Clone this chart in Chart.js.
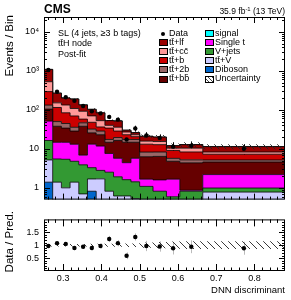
<!DOCTYPE html>
<html>
<head>
<meta charset="utf-8">
<title>DNN discriminant</title>
<script src="https://cdn.jsdelivr.net/npm/chart.js@4.4.1/dist/chart.umd.min.js"></script>
<style>
  html, body { margin: 0; padding: 0; background: #fff; }
  #plot { position: relative; width: 291px; height: 300px; overflow: hidden;
          font-family: "Liberation Sans", Arial, Helvetica, sans-serif; color: #000; }
  #plot canvas { position: absolute; left: 0; }
  .lbl { position: absolute; white-space: nowrap; line-height: 1; }
  .box { position: absolute; width: 7px; height: 5px; border: 1px solid #000; }
  .rot { position: absolute; white-space: nowrap; line-height: 1; width: 100px; text-align: right;
         transform-origin: 0 0; transform: rotate(-90deg); }
  sup { font-size: 70%; vertical-align: 0; position: relative; top: -0.45em; }
</style>
</head>
<body>
<div id="plot">
  <canvas id="mainChart" width="291" height="210" style="top:0"></canvas>
  <canvas id="ratioChart" width="291" height="91" style="top:209px"></canvas>
</div>
<script>
// bin edges of the DNN discriminant histogram
const binEdges = [0.25, 0.2727, 0.2955, 0.3182, 0.3409, 0.3636, 0.3864, 0.4091, 0.4318,
                  0.4545, 0.4773, 0.5, 0.535, 0.57, 0.605, 0.665, 0.88];
const xTicks = [0.3, 0.4, 0.5, 0.6, 0.7, 0.8];
const yTicks = [1, 10, 100, 1000, 10000];
const ratioTicks = [0.5, 1, 1.5];

// post-fit yields per bin
const diboson = [1.4, 0.3, 0.2, 0.2, 0.15, 0.82, 0.2, 0.15, 0.12, 0.1, 0.1, 0.05, 0.05, 0.05, 0.05, 0.05];
const ttV     = [3.8, 1.1, 0.8, 1.2, 0.55, 0.87, 1.5, 0.67, 0.5, 0.52, 0.43, 0.25, 0.2, 0.15, 0.25, 0.73];
const vJets   = [11.2, 4.1, 4.4, 3.4, 3.2, 1.6, 1.1, 1.7, 1.3, 1.0, 0.9, 0.79, 0.57, 0.39, 0.52, 0.21];
const singleT = [35, 9.2, 9.3, 8.3, 3.0, 9.9, 9.0, 5.1, 3.8, 2.8, 4.3, 0.58, 0.78, 1.08, 0.05, 1.2];
const ttbb    = [53, 23.2, 19.3, 15.4, 31, 12.5, 11.2, 7.1, 10.7, 10.3, 9.0, 4.6, 4.8, 3.13, 3.5, 2.4];
const tt2b    = [28, 12.1, 10.6, 7.2, 8.6, 6.3, 5.6, 2.7, 3.1, 2.7, 2.7, 2.0, 1.9, 0.9, 0.85, 0.6];
const ttb     = [161, 65, 39.4, 34, 11.4, 16, 7.8, 16.6, 9.1, 5.6, 3.1, 4.9, 4.5, 3.4, 3.1, 2.1];
const ttcc    = [233, 36, 49, 38.6, 34, 22, 16.4, 6, 7.2, 4, 2.5, 2.6, 2.6, 1.3, 2.1, 1.0];
const ttlf    = [561, 117, 68, 81.4, 42, 33, 31, 13, 16.2, 3, 3, 5.2, 4.6, 1.6, 2.4, 3.1];
const signal  = [1.5, 0.6, 0.5, 0.4, 0.3, 0.3, 0.2, 0.2, 0.2, 0.15, 0.15, 0.1, 0.1, 0.1, 0.1, 0.1];

const dataObs  = [1055, 290, 211, 170, 126, 92, 81, 66, 56, 17.4, 33.4, 22, 19.1, 11.4, 12, 10];
const dataErr  = [32, 17, 14.5, 13, 11.2, 9.6, 9, 8.1, 7.5, 4.2, 5.8, 4.7, 4.4, 3.4, 3.5, 3.2];
const ratioObs = [0.97, 1.08, 1.05, 0.89, 0.94, 0.89, 0.97, 1.24, 1.08, 0.59, 1.32, 0.97, 0.95, 0.88, 0.94, 0.88];
const ratioErr = [0.03, 0.05, 0.06, 0.07, 0.08, 0.09, 0.1, 0.12, 0.12, 0.13, 0.14, 0.2, 0.2, 0.24, 0.25, 0.25];
const relUnc   = [0.05, 0.05, 0.05, 0.05, 0.05, 0.06, 0.06, 0.06, 0.06, 0.07, 0.07, 0.1, 0.12, 0.14, 0.15, 0.15];

const FONT = '"Liberation Sans", Arial, sans-serif';

// stack from bottom to top
const layers = [
  { label: 'Diboson', values: diboson, color: '#0066cc' },
  { label: 'tt̄+V', values: ttV, color: '#ccccff' },
  { label: 'V+jets', values: vJets, color: '#339933' },
  { label: 'Single t', values: singleT, color: '#ff00ff' },
  { label: 'tt̄+bb̄', values: ttbb, color: '#660000' },
  { label: 'tt̄+2b', values: tt2b, color: '#996666' },
  { label: 'tt̄+b', values: ttb, color: '#cc0000' },
  { label: 'tt̄+cc̄', values: ttcc, color: '#ff9999' },
  { label: 'tt̄+lf', values: ttlf, color: '#990000' },
  { label: 'signal', values: signal, color: '#00ffff' }
];

function steps(vals) {
  const pts = vals.map((v, i) => ({ x: binEdges[i], y: v }));
  pts.push({ x: binEdges[vals.length], y: vals[vals.length - 1] });
  return pts;
}
const centers = binEdges.slice(1).map((e, i) => (binEdges[i] + e) / 2);

function hatchPattern(ctx) {
  const c = document.createElement('canvas');
  c.width = 7; c.height = 7;
  const g = c.getContext('2d');
  g.strokeStyle = '#222';
  g.lineWidth = 0.9;
  g.beginPath();
  g.moveTo(0, 0); g.lineTo(7, 7);
  g.moveTo(-2, 5); g.lineTo(2, 9);
  g.moveTo(5, -2); g.lineTo(9, 2);
  g.stroke();
  return ctx.createPattern(c, 'repeat');
}

// inward ROOT style ticks on all four sides plus the frame
function frameTicks(cfg) {
  return {
    id: 'frameTicks',
    afterDatasetsDraw(chart) {
      const { ctx, chartArea: a, scales } = chart;
      const x = scales.x, y = scales.y;
      ctx.save();
      ctx.strokeStyle = '#000';
      ctx.lineWidth = 1;
      ctx.beginPath();
      for (let k = 13; k <= 43; k++) {
        const v = k * 0.02;
        if (v <= x.min || v >= x.max) continue;
        const px = Math.round(x.getPixelForValue(v)) + 0.5;
        const len = k % 5 === 0 ? cfg.xMajor : cfg.xMinor;
        ctx.moveTo(px, a.bottom); ctx.lineTo(px, a.bottom - len);
        ctx.moveTo(px, a.top); ctx.lineTo(px, a.top + len);
      }
      cfg.yValues(y).forEach(([v, major]) => {
        if (v <= y.min || v >= y.max) return;
        const py = Math.round(y.getPixelForValue(v)) + 0.5;
        const len = major ? cfg.yMajor : cfg.yMinor;
        ctx.moveTo(a.left, py); ctx.lineTo(a.left + len, py);
        ctx.moveTo(a.right, py); ctx.lineTo(a.right - len, py);
      });
      ctx.stroke();
      ctx.strokeRect(a.left + 0.5, a.top + 0.5, a.width - 1, a.height - 1);
      ctx.restore();
    }
  };
}

const errorBars = {
  id: 'errorBars',
  beforeDatasetsDraw(chart) {
    const ctx = chart.ctx, y = chart.scales.y;
    chart.data.datasets.forEach((ds, i) => {
      if (!ds.errors) return;
      const meta = chart.getDatasetMeta(i);
      ctx.save();
      ctx.strokeStyle = ds.errorColor;
      ctx.lineWidth = 1;
      ctx.beginPath();
      ds.data.forEach((p, j) => {
        const px = Math.round(meta.data[j].x) + 0.5;
        const lo = Math.max(p.y - ds.errors[j], y.min);
        ctx.moveTo(px, y.getPixelForValue(lo));
        ctx.lineTo(px, y.getPixelForValue(p.y + ds.errors[j]));
      });
      ctx.stroke();
      ctx.restore();
    });
  }
};

// ---------- main panel ----------
const mainCanvas = document.getElementById('mainChart');
const mctx = mainCanvas.getContext('2d');
let running = new Array(binEdges.length - 1).fill(0);
const stackSets = layers.map((layer, i) => {
  running = running.map((r, b) => r + layer.values[b]);
  return {
    label: layer.label, data: steps(running), stepped: true,
    fill: i === 0 ? 'start' : '-1', backgroundColor: layer.color,
    borderColor: '#000', borderWidth: 0.8, pointRadius: 0, order: 2
  };
});
const total = running;

const mainSets = stackSets.concat([
  { label: 'unc-lo', data: steps(total.map((t, b) => t * (1 - relUnc[b]))), stepped: true,
    fill: false, borderWidth: 0, pointRadius: 0, order: 1 },
  { label: 'Uncertainty', data: steps(total.map((t, b) => t * (1 + relUnc[b]))), stepped: true,
    fill: '-1', backgroundColor: hatchPattern(mctx), borderWidth: 0, pointRadius: 0, order: 1 },
  { label: 'Data', data: dataObs.map((v, b) => ({ x: centers[b], y: v })), showLine: false,
    pointRadius: 2.2, pointBackgroundColor: '#000', pointBorderWidth: 0,
    errors: dataErr, errorColor: '#000', order: 0 }
]);

new Chart(mainCanvas, {
  type: 'line',
  data: { datasets: mainSets },
  options: {
    responsive: false, animation: false,
    layout: { padding: { top: 17, right: 6, bottom: 1, left: 0 } },
    plugins: { legend: { display: false }, tooltip: { enabled: false } },
    scales: {
      x: {
        type: 'linear', min: 0.25, max: 0.88,
        grid: { display: false }, border: { display: false },
        ticks: { display: false },
        afterFit: s => { s.height = 0; }
      },
      y: {
        type: 'logarithmic', min: 0.5, max: 24000,
        grid: { display: false, drawTicks: false }, border: { display: false },
        afterBuildTicks: s => { s.ticks = yTicks.map(v => ({ value: v })); },
        ticks: {
          padding: 5, color: '#000', font: { family: FONT, size: 9 },
          callback: v => ({ 1: '1', 10: '10', 100: '10²', 1000: '10³', 10000: '10⁴' })[v]
        },
        afterFit: s => { s.width = 44; }
      }
    }
  },
  plugins: [errorBars, frameTicks({
    xMajor: 6, xMinor: 3, yMajor: 6, yMinor: 3,
    yValues: () => {
      const out = [];
      for (let d = -1; d <= 4; d++) for (let m = 1; m <= 9; m++) out.push([m * Math.pow(10, d), m === 1]);
      return out;
    }
  })]
});

// ---------- ratio panel ----------
const ratioCanvas = document.getElementById('ratioChart');
const rctx = ratioCanvas.getContext('2d');
new Chart(ratioCanvas, {
  type: 'line',
  data: {
    datasets: [
      { label: 'band-lo', data: steps(relUnc.map(u => 1 - u)), stepped: true,
        fill: false, borderWidth: 0, pointRadius: 0, order: 1 },
      { label: 'band-hi', data: steps(relUnc.map(u => 1 + u)), stepped: true,
        fill: '-1', backgroundColor: hatchPattern(rctx), borderWidth: 0, pointRadius: 0, order: 1 },
      { label: 'ratio', data: ratioObs.map((v, b) => ({ x: centers[b], y: v })), showLine: false,
        pointRadius: 2.2, pointBackgroundColor: '#000', pointBorderWidth: 0,
        errors: ratioErr, errorColor: '#bbb', order: 0 }
    ]
  },
  options: {
    responsive: false, animation: false,
    layout: { padding: { top: 1, right: 6, bottom: 0, left: 0 } },
    plugins: { legend: { display: false }, tooltip: { enabled: false } },
    scales: {
      x: {
        type: 'linear', min: 0.25, max: 0.88,
        grid: { display: false, drawTicks: false }, border: { display: false },
        afterBuildTicks: s => { s.ticks = xTicks.map(v => ({ value: v })); },
        ticks: { padding: 2, maxRotation: 0, color: '#000', font: { family: FONT, size: 9 },
                 callback: v => v.toFixed(1) },
        afterFit: s => { s.height = 29; }
      },
      y: {
        type: 'linear', min: 0, max: 2,
        grid: { display: false, drawTicks: false }, border: { display: false },
        afterBuildTicks: s => { s.ticks = ratioTicks.map(v => ({ value: v })); },
        ticks: { padding: 5, color: '#000', font: { family: FONT, size: 9 },
                 callback: v => String(v) },
        afterFit: s => { s.width = 44; }
      }
    }
  },
  plugins: [errorBars, frameTicks({
    xMajor: 7, xMinor: 3.5, yMajor: 6, yMinor: 3,
    yValues: () => {
      const out = [];
      for (let k = 1; k < 20; k++) out.push([k / 10, k % 5 === 0]);
      return out;
    }
  })]
});

// ---------- text and legend ----------
const plot = document.getElementById('plot');
function addLabel(html, style, cls) {
  const d = document.createElement('div');
  d.className = cls || 'lbl';
  d.innerHTML = html;
  Object.assign(d.style, style);
  plot.appendChild(d);
  return d;
}
addLabel('CMS', { left: '44px', top: '3px', fontSize: '12px', fontWeight: 'bold' });
addLabel('35.9 fb<sup>-1</sup> (13 TeV)', { right: '6px', top: '7px', fontSize: '8.5px' });
addLabel('SL (4 jets, ≥3 b tags)', { left: '58px', top: '29px', fontSize: '9px' });
addLabel('tt̄H node', { left: '58px', top: '39px', fontSize: '9px' });
addLabel('Post-fit', { left: '58px', top: '50px', fontSize: '9px' });
addLabel('Events / Bin', { left: '4px', top: '115px', fontSize: '11.5px' }, 'rot');
addLabel('Data / Pred.', { left: '4px', top: '311px', fontSize: '11.5px' }, 'rot');
addLabel('DNN discriminant', { right: '6px', top: '285px', fontSize: '9.5px' });

const legendLeft = ['Data', 'tt̄+lf', 'tt̄+cc̄', 'tt̄+b', 'tt̄+2b', 'tt̄+bb̄'];
const legendRight = ['signal', 'Single t', 'V+jets', 'tt̄+V', 'Diboson', 'Uncertainty'];
const colorOf = Object.fromEntries(layers.map(l => [l.label, l.color]));

function legendEntry(name, boxX, row) {
  const cy = 33.5 + row * 9.1;
  if (name === 'Data') {
    addLabel('', { left: (boxX + 2) + 'px', top: (cy - 2) + 'px', width: '4px', height: '4px',
                   borderRadius: '2px', background: '#000' });
  } else {
    const box = addLabel('', { left: boxX + 'px', top: (cy - 3.5) + 'px' }, 'box');
    box.style.background = name === 'Uncertainty'
      ? 'repeating-linear-gradient(45deg, #fff 0 2px, #444 2px 2.8px)'
      : colorOf[name];
  }
  addLabel(name, { left: (boxX + 10) + 'px', top: (cy - 4.8) + 'px', fontSize: '9px' });
}
legendLeft.forEach((n, i) => legendEntry(n, 159, i));
legendRight.forEach((n, i) => legendEntry(n, 205, i));
</script>
</body>
</html>
